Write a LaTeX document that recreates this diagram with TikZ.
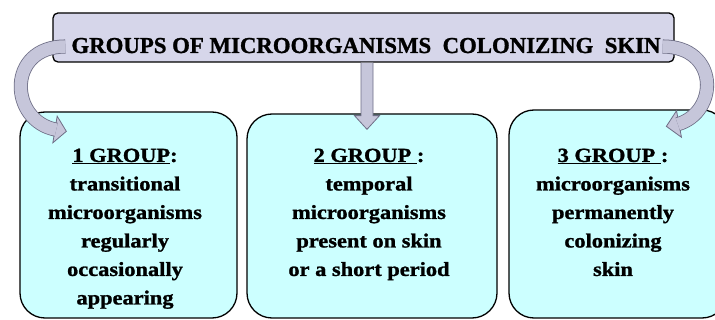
\documentclass[tikz,border=0pt]{standalone}
\usepackage{fontspec}
\setmainfont{Liberation Serif}
\newfontfamily\boxfont[FakeStretch=1.12,FakeBold=1.2]{Liberation Serif}
\newfontfamily\titlefont[FakeBold=1.2]{Liberation Serif}
\usetikzlibrary{calc}
\definecolor{titlefill}{HTML}{D6D6EA}
\definecolor{boxfill}{HTML}{CCFFFF}
\definecolor{arrfill}{HTML}{C6C6DA}
\definecolor{arredge}{HTML}{6E6E86}
\begin{document}
\begin{tikzpicture}[x=1pt,y=-1pt,
  titlebox/.style={draw=black, line width=1.3pt, fill=titlefill, rounded corners=5pt,
    minimum width=621pt, minimum height=49pt, inner sep=0pt},
  groupbox/.style={draw=black, line width=1.3pt, fill=boxfill, rounded corners=25pt, inner sep=0pt},
  titletext/.style={anchor=base, inner sep=0pt, font=\titlefont\bfseries\fontsize{22.8}{26}\selectfont},
  grouptext/.style={anchor=north, align=center, inner sep=0pt,
    font=\boxfont\bfseries\fontsize{20}{28.5}\selectfont},
  shaft/.style={draw=arredge, line width=0.8pt, double=arrfill, double distance=12.5pt},
  headshape/.style={draw=arredge, line width=0.8pt, fill=arrfill, line join=miter}]
\clip (0,0) rectangle (715,320);
\fill[white] (0,0) rectangle (715,320);
% group boxes
\node[groupbox, minimum width=217pt, minimum height=206pt] (b1) at (128.5,215) {};
\node[groupbox, minimum width=250pt, minimum height=204pt] (b2) at (372,216) {};
\node[groupbox, minimum width=218pt, minimum height=208pt] (b3) at (618,214) {};
% title
\node[titlebox] (title) at (363.5,37.5) {};
\node[titletext] (tt) at (366,53) {GROUPS OF MICROORGANISMS\ \ COLONIZING\ \ SKIN};
% texts
\node[grouptext] (t1) at (125,148.5) {\underline{1 GROUP}:\\transitional\\microorganisms\\regularly\\occasionally\\appearing};
\node[grouptext] (t2) at (369,148.5) {\underline{2 GROUP }:\\temporal\\microorganisms\\present on skin\\or a short period};
\node[grouptext] (t3) at (613,148.5) {\underline{3 GROUP }:\\microorganisms\\permanently\\colonizing\\skin};
% middle arrow
\coordinate (mt) at ($(title.south)+(3.5,0)$);
\coordinate (mtip) at ($(b2.north)+(-5,16)$);
\filldraw[headshape]
  ($(mt)+(-6,0)$) -- ($(mt)+(-6,53)$) -- ($(mt)+(-12.5,53)$) -- (mtip)
  -- ($(mt)+(12.5,53)$) -- ($(mt)+(6,53)$) -- ($(mt)+(6,0)$);
% left curved arrow
\coordinate (ls) at ($(title.west)+(13,9)$);
\coordinate (lhb) at (55,129.5);
\coordinate (ltip) at ($(b1.north west)+(47,20)$);
\filldraw[headshape] ($(lhb)!13.5pt!90:(ltip)$) -- (ltip) -- ($(lhb)!13.5pt!-90:(ltip)$) -- cycle;
\draw[shaft] (ls) .. controls (6,46.5) and (9,121) .. ($(lhb)!1.2pt!(ltip)$);
% right curved arrow
\coordinate (rs) at ($(title.east)+(-12,9)$);
\coordinate (rhb) at (679,124);
\coordinate (rtip) at ($(b3.north west)+(158,17)$);
\filldraw[headshape] ($(rhb)!13.5pt!90:(rtip)$) -- (rtip) -- ($(rhb)!13.5pt!-90:(rtip)$) -- cycle;
\draw[shaft] (rs) .. controls (719,46.5) and (719,112) .. ($(rhb)!1.2pt!(rtip)$);
\end{tikzpicture}
\end{document}
